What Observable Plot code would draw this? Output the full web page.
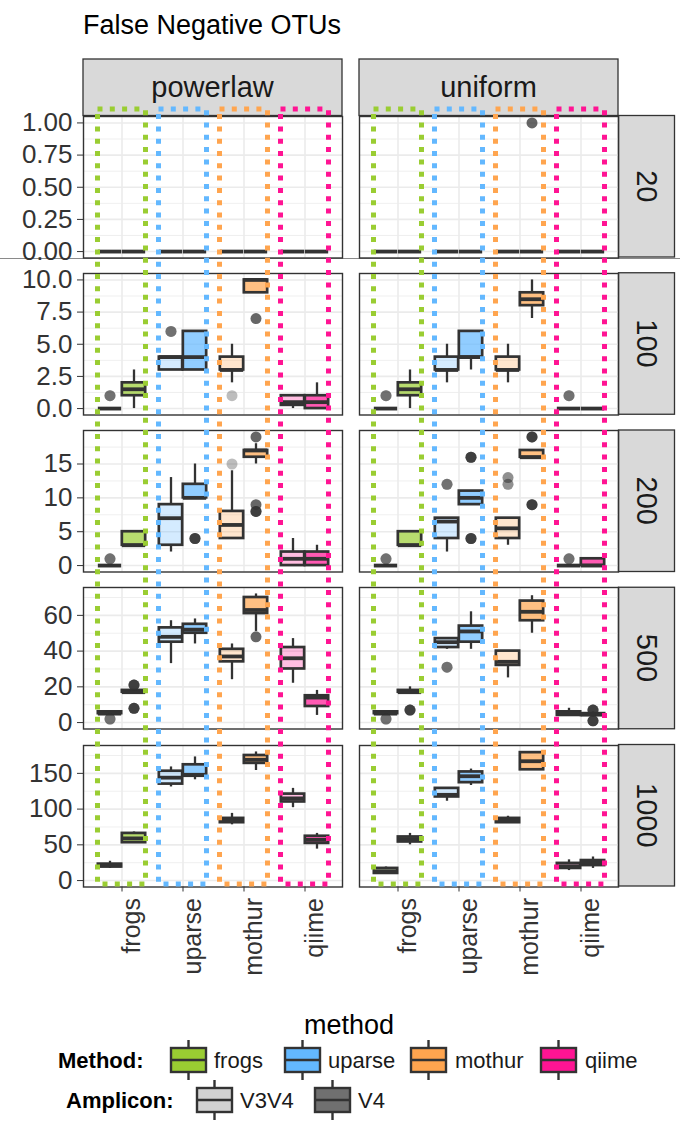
<!DOCTYPE html>
<html>
<head>
<meta charset="utf-8">
<script src="https://cdn.jsdelivr.net/npm/d3@7"></script>
<script src="https://cdn.jsdelivr.net/npm/@observablehq/plot@0.6"></script>
<style>
html,body{margin:0;padding:0;background:#fff;}
#root{position:relative;width:680px;height:1124px;overflow:hidden;font-family:"Liberation Sans",Arial,sans-serif;}
.layer{position:absolute;}
</style>
</head>
<body>
<div id="root"></div>
<script>
// ---------------- data ----------------
const methods = ["frogs", "uparse", "mothur", "qiime"];
const amplicons = ["V3V4", "V4"];
const distributions = ["powerlaw", "uniform"];
const depths = ["20", "100", "200", "500", "1000"];
const methodColors = ["#9acd32", "#63b8ff", "#ffa54f", "#ff1493"];
const ampliconAlpha = [0.28, 0.7];
const outlierAlpha = [0.32, 0.75];
const depthExtent = [[0, 1], [0, 10], [0, 19], [0, 72], [0, 180]];
const depthTicks = [[0, 0.25, 0.5, 0.75, 1], [0, 2.5, 5, 7.5, 10], [0, 5, 10, 15], [0, 20, 40, 60], [0, 50, 100, 150]];
const depthTickFormats = [".2f", ".1f", "d", "d", "d"];

// [distribution, method, amplicon, min, q1, median, q3, max]
const stats20 = [
  ["powerlaw", "frogs", "V3V4", 0, 0, 0, 0, 0], ["powerlaw", "frogs", "V4", 0, 0, 0, 0, 0],
  ["powerlaw", "uparse", "V3V4", 0, 0, 0, 0, 0], ["powerlaw", "uparse", "V4", 0, 0, 0, 0, 0],
  ["powerlaw", "mothur", "V3V4", 0, 0, 0, 0, 0], ["powerlaw", "mothur", "V4", 0, 0, 0, 0, 0],
  ["powerlaw", "qiime", "V3V4", 0, 0, 0, 0, 0], ["powerlaw", "qiime", "V4", 0, 0, 0, 0, 0],
  ["uniform", "frogs", "V3V4", 0, 0, 0, 0, 0], ["uniform", "frogs", "V4", 0, 0, 0, 0, 0],
  ["uniform", "uparse", "V3V4", 0, 0, 0, 0, 0], ["uniform", "uparse", "V4", 0, 0, 0, 0, 0],
  ["uniform", "mothur", "V3V4", 0, 0, 0, 0, 0], ["uniform", "mothur", "V4", 0, 0, 0, 0, 0],
  ["uniform", "qiime", "V3V4", 0, 0, 0, 0, 0], ["uniform", "qiime", "V4", 0, 0, 0, 0, 0]
];
const stats100 = [
  ["powerlaw", "frogs", "V3V4", 0, 0, 0, 0, 0], ["powerlaw", "frogs", "V4", 0, 1, 1.5, 2, 3],
  ["powerlaw", "uparse", "V3V4", 3, 3, 4, 4, 4], ["powerlaw", "uparse", "V4", 3, 3, 4, 6, 6],
  ["powerlaw", "mothur", "V3V4", 2, 3, 3, 4, 5], ["powerlaw", "mothur", "V4", 9, 9, 10, 10, 10],
  ["powerlaw", "qiime", "V3V4", 0, 0.25, 0.5, 1, 1], ["powerlaw", "qiime", "V4", 0, 0, 0.5, 1, 2],
  ["uniform", "frogs", "V3V4", 0, 0, 0, 0, 0], ["uniform", "frogs", "V4", 0, 1, 1.5, 2, 3],
  ["uniform", "uparse", "V3V4", 2, 3, 3, 4, 5], ["uniform", "uparse", "V4", 3, 4, 4, 6, 6],
  ["uniform", "mothur", "V3V4", 2, 3, 3, 4, 5], ["uniform", "mothur", "V4", 7, 8, 8.5, 9, 10],
  ["uniform", "qiime", "V3V4", 0, 0, 0, 0, 0], ["uniform", "qiime", "V4", 0, 0, 0, 0, 0]
];
const stats200 = [
  ["powerlaw", "frogs", "V3V4", 0, 0, 0, 0, 0], ["powerlaw", "frogs", "V4", 3, 3, 3, 5, 5],
  ["powerlaw", "uparse", "V3V4", 2, 3, 7, 9, 13], ["powerlaw", "uparse", "V4", 10, 10, 10, 12, 15],
  ["powerlaw", "mothur", "V3V4", 4, 4, 6, 8, 14], ["powerlaw", "mothur", "V4", 15, 16, 17, 17, 18],
  ["powerlaw", "qiime", "V3V4", 0, 0, 1, 2, 4], ["powerlaw", "qiime", "V4", 0, 0, 1, 2, 3],
  ["uniform", "frogs", "V3V4", 0, 0, 0, 0, 0], ["uniform", "frogs", "V4", 3, 3, 3, 5, 5],
  ["uniform", "uparse", "V3V4", 2, 4, 6.5, 7, 7], ["uniform", "uparse", "V4", 9, 9, 10, 11, 11],
  ["uniform", "mothur", "V3V4", 3, 4, 5.5, 7, 7], ["uniform", "mothur", "V4", 16, 16, 16, 17, 17],
  ["uniform", "qiime", "V3V4", 0, 0, 0, 0, 0], ["uniform", "qiime", "V4", 0, 0, 0, 1, 1]
];
const stats500 = [
  ["powerlaw", "frogs", "V3V4", 4, 5, 5, 6, 6], ["powerlaw", "frogs", "V4", 16, 17, 17, 18, 18],
  ["powerlaw", "uparse", "V3V4", 33, 45, 48, 53, 57], ["powerlaw", "uparse", "V4", 44, 50, 52, 55, 58],
  ["powerlaw", "mothur", "V3V4", 24, 34, 37, 41, 44], ["powerlaw", "mothur", "V4", 51, 61, 63, 70, 72],
  ["powerlaw", "qiime", "V3V4", 22, 30, 36, 42, 47], ["powerlaw", "qiime", "V4", 4, 9, 14, 15, 18],
  ["uniform", "frogs", "V3V4", 4, 5, 5, 6, 6], ["uniform", "frogs", "V4", 16, 17, 17, 18, 20],
  ["uniform", "uparse", "V3V4", 41, 42, 45, 47, 47], ["uniform", "uparse", "V4", 41, 45, 51, 54, 62],
  ["uniform", "mothur", "V3V4", 25, 32, 34, 40, 40], ["uniform", "mothur", "V4", 50, 57, 62, 68, 71],
  ["uniform", "qiime", "V3V4", 4, 4, 5, 6, 8], ["uniform", "qiime", "V4", 3, 4, 4.5, 5, 6]
];
const stats1000 = [
  ["powerlaw", "frogs", "V3V4", 17, 19, 21, 23, 27], ["powerlaw", "frogs", "V4", 52, 53, 59, 66, 68],
  ["powerlaw", "uparse", "V3V4", 131, 135, 144, 153, 159], ["powerlaw", "uparse", "V4", 141, 146, 148, 162, 173],
  ["powerlaw", "mothur", "V3V4", 78, 81, 84, 87, 94], ["powerlaw", "mothur", "V4", 154, 164, 169, 175, 180],
  ["powerlaw", "qiime", "V3V4", 102, 110, 115, 121, 129], ["powerlaw", "qiime", "V4", 44, 52, 57, 62, 66],
  ["uniform", "frogs", "V3V4", 9, 10, 13, 17, 19], ["uniform", "frogs", "V4", 50, 54, 58, 61, 66],
  ["uniform", "uparse", "V3V4", 111, 117, 120, 129, 129], ["uniform", "uparse", "V4", 133, 137, 146, 152, 156],
  ["uniform", "mothur", "V3V4", 80, 81, 84, 87, 90], ["uniform", "mothur", "V4", 154, 155, 167, 179, 180],
  ["uniform", "qiime", "V3V4", 14, 17, 20, 24, 29], ["uniform", "qiime", "V4", 17, 21, 25, 28, 33]
];
// [distribution, depth, method, amplicon, value, number of replicates]
const outlierRows = [
  ["uniform", "20", "mothur", "V4", 1, 1],
  ["powerlaw", "100", "frogs", "V3V4", 1, 3], ["powerlaw", "100", "uparse", "V3V4", 6, 3],
  ["powerlaw", "100", "mothur", "V3V4", 1, 1], ["powerlaw", "100", "mothur", "V4", 7, 1],
  ["uniform", "100", "frogs", "V3V4", 1, 3], ["uniform", "100", "qiime", "V3V4", 1, 3],
  ["powerlaw", "200", "frogs", "V3V4", 1, 3], ["powerlaw", "200", "uparse", "V4", 4, 2],
  ["powerlaw", "200", "mothur", "V3V4", 15, 1], ["powerlaw", "200", "mothur", "V4", 19, 1],
  ["powerlaw", "200", "mothur", "V4", 9, 1], ["powerlaw", "200", "mothur", "V4", 8, 2],
  ["uniform", "200", "frogs", "V3V4", 1, 3], ["uniform", "200", "uparse", "V3V4", 12, 3],
  ["uniform", "200", "uparse", "V4", 16, 2], ["uniform", "200", "uparse", "V4", 4, 2],
  ["uniform", "200", "mothur", "V3V4", 12, 2], ["uniform", "200", "mothur", "V3V4", 13, 2],
  ["uniform", "200", "mothur", "V4", 19, 2], ["uniform", "200", "mothur", "V4", 9, 2],
  ["uniform", "200", "qiime", "V3V4", 1, 3],
  ["powerlaw", "500", "frogs", "V3V4", 2, 3], ["powerlaw", "500", "frogs", "V4", 21, 2],
  ["powerlaw", "500", "frogs", "V4", 8, 2], ["powerlaw", "500", "mothur", "V4", 48, 1],
  ["uniform", "500", "frogs", "V3V4", 2, 3], ["uniform", "500", "frogs", "V4", 7, 2],
  ["uniform", "500", "uparse", "V3V4", 31, 3], ["uniform", "500", "qiime", "V4", 7, 2],
  ["uniform", "500", "qiime", "V4", 1, 2]
];

// ---------------- build ----------------
const statsByDepth = [stats20, stats100, stats200, stats500, stats1000];
const boxes = statsByDepth.flatMap((rows, i) => rows.map(([dist, method, amp, min, q1, med, q3, max]) =>
  ({dist, depth: depths[i], method, amp, min, q1, med, q3, max})));
const outs = outlierRows.flatMap(([dist, depth, method, amp, value, n]) =>
  d3.range(n).map(() => ({dist, depth, method, amp, value})));

const root = document.getElementById("root");
const FONT = '"Liberation Sans", Arial, sans-serif';
const panelLeft = [83, 359];
const panelW = 259;
const rowTop = [115.5, 272.75, 430, 587.25, 744.5];
const panelH = 141.5;
const ink = "#333333";

function place(node, left, top, z) {
  const div = document.createElement("div");
  div.className = "layer";
  div.style.left = left + "px";
  div.style.top = top + "px";
  div.style.zIndex = z;
  div.appendChild(node);
  root.appendChild(div);
}

const xScale = {type: "band", domain: methods, paddingInner: 0, paddingOuter: 0.1, axis: null};
const colorScale = {domain: methods, range: methodColors};

function panel(di, ci) {
  const dist = distributions[ci], dep = depths[di];
  const isLeft = ci === 0, isBottom = di === depths.length - 1;
  const mL = isLeft ? 83 : 2, mB = isBottom ? 130 : 2;
  const [lo, hi] = depthExtent[di];
  const pad = (hi - lo) * 0.05;
  const ticks = depthTicks[di];
  const step = ticks[1] - ticks[0];
  const minor = ticks.map(t => t + step / 2).filter(t => t < hi + pad);
  const bw = panelW / 4.2;
  const boxW = 24;
  const bx = boxes.filter(d => d.dist === dist && d.depth === dep);
  const ox = outs.filter(d => d.dist === dist && d.depth === dep);
  const marks = [
    Plot.gridY(minor, {stroke: "#ebebeb", strokeOpacity: 1, strokeWidth: 0.8}),
    Plot.gridY(ticks, {stroke: "#ebebeb", strokeOpacity: 1, strokeWidth: 1.6}),
    Plot.gridX(methods, {stroke: "#ebebeb", strokeOpacity: 1, strokeWidth: 1.6})
  ];
  amplicons.forEach((amp, ai) => {
    const sgn = ai === 0 ? -1 : 1;
    const inset = ai === 0 ? {insetLeft: bw / 2 - boxW, insetRight: bw / 2} : {insetLeft: bw / 2, insetRight: bw / 2 - boxW};
    const b = bx.filter(d => d.amp === amp);
    const o = ox.filter(d => d.amp === amp);
    marks.push(
      Plot.ruleX(b, {x: "method", y1: "min", y2: "q1", dx: sgn * boxW / 2, stroke: ink, strokeWidth: 2.3}),
      Plot.ruleX(b, {x: "method", y1: "q3", y2: "max", dx: sgn * boxW / 2, stroke: ink, strokeWidth: 2.3}),
      Plot.barY(b, {x: "method", y1: "q1", y2: "q3", fill: "method", fillOpacity: ampliconAlpha[ai], stroke: ink, strokeWidth: 2.7, ...inset}),
      Plot.tickY(b, {x: "method", y: "med", stroke: ink, strokeWidth: 3.8, ...inset}),
      Plot.dot(o, {x: "method", y: "value", dx: sgn * boxW / 2, r: 5.5, fill: ink, fillOpacity: outlierAlpha[ai], stroke: "none"})
    );
  });
  marks.push(Plot.frame({stroke: ink, strokeWidth: 1.4}));
  if (isLeft) {
    marks.push(Plot.axisY(ticks, {tickFormat: d3.format(depthTickFormats[di]), tickSize: 6, tickPadding: 5, fontSize: 26, color: ink, label: null}));
  }
  if (isBottom) {
    marks.push(
      Plot.axisX({tickSize: 5, tickFormat: () => "", color: ink, label: null}),
      Plot.text(methods, {x: d => d, frameAnchor: "bottom", rotate: -90, textAnchor: "end", lineAnchor: "top", dy: 11, fontSize: 25, fill: ink})
    );
  }
  const svg = Plot.plot({
    width: mL + panelW + 2,
    height: 2 + panelH + mB,
    marginLeft: mL, marginRight: 2, marginTop: 2, marginBottom: mB,
    x: xScale,
    y: {domain: [lo - pad, hi + pad], axis: null},
    color: colorScale,
    style: {background: "none", fontFamily: FONT, overflow: "visible", maxWidth: "none"},
    marks
  });
  place(svg, panelLeft[ci] - mL, rowTop[di] - 2, 2);
}

function overlay(ci) {
  const top = 109, bottom = 884;
  const svg = Plot.plot({
    width: panelW + 4, height: bottom - top + 6,
    marginLeft: 2, marginRight: 2, marginTop: 3, marginBottom: 3,
    x: xScale,
    color: colorScale,
    style: {background: "none", overflow: "visible", maxWidth: "none"},
    marks: [
      Plot.cell(methods, {x: d => d, stroke: d => d, fill: "none", strokeWidth: 5, strokeDasharray: "5 7.3", insetLeft: 6.5, insetRight: 6.5, insetTop: 0, insetBottom: 0})
    ]
  });
  place(svg, panelLeft[ci] - 2, top - 3, 3);
}

// background page layer: title, strips, legend
const page = d3.create("svg").attr("width", 680).attr("height", 1124)
  .style("font-family", FONT).style("display", "block");
page.append("text").attr("x", 83).attr("y", 34).attr("font-size", 27).attr("fill", "#000").text("False Negative OTUs");
page.append("line").attr("x1", 0).attr("x2", 680).attr("y1", 258.5).attr("y2", 258.5).attr("stroke", "#8a8a8a").attr("stroke-width", 1.2);
distributions.forEach((dist, ci) => {
  page.append("rect").attr("x", panelLeft[ci]).attr("y", 59).attr("width", panelW).attr("height", rowTop[0] - 59)
    .attr("fill", "#d9d9d9").attr("stroke", ink).attr("stroke-width", 1.3);
  page.append("text").attr("x", panelLeft[ci] + panelW / 2).attr("y", (59 + rowTop[0]) / 2)
    .attr("text-anchor", "middle").attr("dominant-baseline", "central").attr("font-size", 29).attr("fill", "#1a1a1a").text(dist);
});
depths.forEach((dep, di) => {
  const x0 = panelLeft[1] + panelW + 0.5, w = 56;
  page.append("rect").attr("x", x0).attr("y", rowTop[di]).attr("width", w).attr("height", panelH)
    .attr("fill", "#d9d9d9").attr("stroke", ink).attr("stroke-width", 1.3);
  page.append("text").attr("transform", `translate(${x0 + w / 2},${rowTop[di] + panelH / 2}) rotate(90)`)
    .attr("text-anchor", "middle").attr("dominant-baseline", "central").attr("font-size", 29).attr("fill", "#1a1a1a").text(dep);
});
// legend
page.append("text").attr("x", 349).attr("y", 1034).attr("text-anchor", "middle").attr("font-size", 27).attr("fill", "#000").text("method");
function glyph(x, yc, fill, opacity) {
  const g = page.append("g").attr("stroke", ink).attr("stroke-width", 2.4);
  g.append("line").attr("x1", x + 18.5).attr("x2", x + 18.5).attr("y1", yc - 20).attr("y2", yc - 12);
  g.append("line").attr("x1", x + 18.5).attr("x2", x + 18.5).attr("y1", yc + 12).attr("y2", yc + 20);
  g.append("rect").attr("x", x + 1).attr("y", yc - 12).attr("width", 35).attr("height", 24).attr("fill", fill).attr("fill-opacity", opacity);
  g.append("line").attr("x1", x + 1).attr("x2", x + 36).attr("y1", yc).attr("y2", yc);
}
page.append("text").attr("x", 58).attr("y", 1068).attr("font-size", 22).attr("font-weight", "bold").attr("fill", "#000").text("Method:");
const mGlyphX = [170, 284, 410, 540], mLabelX = [214, 328, 455, 585];
methods.forEach((m, i) => {
  glyph(mGlyphX[i], 1060, methodColors[i], 1);
  page.append("text").attr("x", mLabelX[i]).attr("y", 1068).attr("font-size", 22).attr("fill", "#1a1a1a").text(m);
});
page.append("text").attr("x", 66).attr("y", 1108).attr("font-size", 22).attr("font-weight", "bold").attr("fill", "#000").text("Amplicon:");
const aGlyphX = [196, 314], aLabelX = [240, 358];
amplicons.forEach((a, i) => {
  glyph(aGlyphX[i], 1100, ink, [0.22, 0.7][i]);
  page.append("text").attr("x", aLabelX[i]).attr("y", 1108).attr("font-size", 22).attr("fill", "#1a1a1a").text(a);
});
place(page.node(), 0, 0, 1);

depths.forEach((d, di) => distributions.forEach((dist, ci) => panel(di, ci)));
distributions.forEach((d, ci) => overlay(ci));
</script>
</body>
</html>
